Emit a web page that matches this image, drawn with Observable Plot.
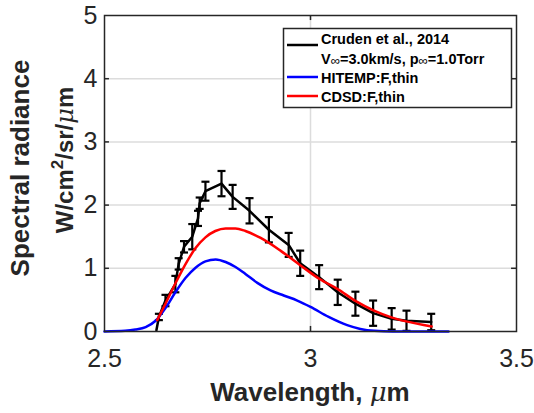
<!DOCTYPE html>
<html>
<head>
<meta charset="utf-8">
<script src="https://cdn.jsdelivr.net/npm/d3@7"></script>
<script src="https://cdn.jsdelivr.net/npm/@observablehq/plot@0.6"></script>
<style>
  html, body { margin: 0; padding: 0; background: #fff; }
  #chart { position: relative; width: 534px; height: 413px; }
</style>
</head>
<body>
<div id="chart"></div>
<script>
// Ticks
const xTicks = [2.5, 3, 3.5];
const yTicks = [0, 1, 2, 3, 4, 5];

// Cruden et al., 2014 (measured, with error bars)
const crudenX = [2.626, 2.632, 2.648, 2.672, 2.680, 2.693, 2.713, 2.727, 2.731, 2.745, 2.784, 2.811, 2.852, 2.899, 2.947, 2.975, 3.021, 3.066, 3.109, 3.152, 3.197, 3.233, 3.293];
const crudenY = [0.02, 0.23, 0.49, 0.75, 1.07, 1.34, 1.50, 1.79, 2.03, 2.22, 2.34, 2.13, 1.91, 1.61, 1.37, 1.08, 0.86, 0.62, 0.44, 0.29, 0.20, 0.17, 0.15];
const crudenErr = [0, 0.05, 0.09, 0.13, 0.09, 0.09, 0.20, 0.12, 0.09, 0.15, 0.20, 0.19, 0.20, 0.20, 0.19, 0.20, 0.19, 0.20, 0.19, 0.20, 0.17, 0.16, 0.13];

// HITEMP:F,thin
const hitempX = [2.50, 2.55, 2.575, 2.600, 2.624, 2.648, 2.672, 2.697, 2.721, 2.745, 2.770, 2.794, 2.818, 2.842, 2.871, 2.903, 2.935, 2.968, 3.000, 3.044, 3.089, 3.121, 3.155, 3.200, 3.335];
const hitempY = [0.00, 0.01, 0.03, 0.07, 0.17, 0.37, 0.62, 0.85, 1.01, 1.11, 1.14, 1.10, 1.02, 0.91, 0.77, 0.65, 0.57, 0.49, 0.39, 0.23, 0.10, 0.04, 0.01, 0.00, 0.00];

// CDSD:F,thin
const cdsdX = [2.628, 2.648, 2.672, 2.697, 2.721, 2.745, 2.769, 2.794, 2.818, 2.842, 2.879, 2.927, 2.975, 3.022, 3.066, 3.110, 3.154, 3.198, 3.232, 3.294];
const cdsdY = [0.18, 0.44, 0.76, 1.07, 1.32, 1.49, 1.59, 1.63, 1.63, 1.59, 1.48, 1.28, 1.05, 0.83, 0.67, 0.48, 0.33, 0.22, 0.16, 0.08];

const legendLabels = ["Cruden et al., 2014", "HITEMP:F,thin", "CDSD:F,thin"];
const legendColors = ["#000000", "#0000ff", "#ff0000"];

const cruden = crudenX.map((x, i) => ({x, y: crudenY[i], e: crudenErr[i]}));
const bars = cruden.filter(d => d.e > 0);
const hitemp = hitempX.map((x, i) => ({x, y: hitempY[i]}));
const cdsd = cdsdX.map((x, i) => ({x, y: cdsdY[i]}));

const capSymbol = {
  draw(ctx, size) {
    const r = Math.sqrt(size / Math.PI);
    ctx.moveTo(-r, 0);
    ctx.lineTo(r, 0);
  }
};

const font = "'Liberation Sans', Arial, Helvetica, sans-serif";
const axisColor = "#262626";

const plot = Plot.plot({
  width: 534,
  height: 413,
  marginLeft: 104,
  marginRight: 18,
  marginTop: 15,
  marginBottom: 82,
  style: {fontFamily: font, fontSize: "25px", color: axisColor, background: "#fff"},
  x: {domain: [2.5, 3.5]},
  y: {domain: [0, 5]},
  marks: [
    Plot.gridX(xTicks.slice(1, -1), {stroke: "#dcdcdc", strokeOpacity: 1, strokeWidth: 1.5}),
    Plot.gridY(yTicks.slice(1, -1), {stroke: "#dcdcdc", strokeOpacity: 1, strokeWidth: 1.5}),
    Plot.axisX(xTicks, {tickSize: 0, tickPadding: 18, label: null, tickFormat: d => String(d)}),
    Plot.axisY(yTicks, {tickSize: 0, tickPadding: 7, label: null, tickFormat: d => String(d)}),
    // inward ticks (MATLAB style)
    Plot.ruleX(xTicks.slice(1, -1), {y1: 0, y2: 0.08, stroke: axisColor, strokeWidth: 1.5}),
    Plot.ruleX(xTicks.slice(1, -1), {y1: 5, y2: 4.92, stroke: axisColor, strokeWidth: 1.5}),
    Plot.ruleY(yTicks.slice(1, -1), {x1: 2.5, x2: 2.512, stroke: axisColor, strokeWidth: 1.5}),
    Plot.ruleY(yTicks.slice(1, -1), {x1: 3.488, x2: 3.5, stroke: axisColor, strokeWidth: 1.5}),
    // error bars
    Plot.ruleX(bars, {x: "x", y1: d => d.y - d.e, y2: d => d.y + d.e, stroke: "#000", strokeWidth: 2.2}),
    Plot.dot(bars, {x: "x", y: d => d.y + d.e, symbol: capSymbol, r: 4, fill: "none", stroke: "#000", strokeWidth: 2.2}),
    Plot.dot(bars, {x: "x", y: d => d.y - d.e, symbol: capSymbol, r: 4, fill: "none", stroke: "#000", strokeWidth: 2.2}),
    Plot.line(cruden, {x: "x", y: "y", stroke: "#000", strokeWidth: 2.5}),
    Plot.line(hitemp, {x: "x", y: "y", stroke: "#0000ff", strokeWidth: 2.5, curve: "monotone-x"}),
    Plot.line(cdsd, {x: "x", y: "y", stroke: "#ff0000", strokeWidth: 2.5, curve: "monotone-x"}),
    Plot.frame({stroke: axisColor, strokeWidth: 1.5})
  ]
});

document.getElementById("chart").appendChild(plot);

// Axis titles and legend (text drawn into the Plot SVG)
const svg = d3.select(plot);

const xt = svg.append("text")
  .attr("x", 310).attr("y", 401)
  .attr("text-anchor", "middle")
  .attr("font-family", font).attr("font-size", 26).attr("font-weight", "bold")
  .attr("fill", axisColor);
xt.append("tspan").text("Wavelength, ");
xt.append("tspan").attr("font-style", "italic").attr("font-weight", "normal").attr("font-family", "'DejaVu Serif', serif").text("μ");
xt.append("tspan").text("m");

const yt = svg.append("g")
  .attr("font-family", font).attr("font-size", 26).attr("font-weight", "bold")
  .attr("fill", axisColor).attr("text-anchor", "middle");
yt.append("text").attr("transform", "translate(29,168) rotate(-90)").text("Spectral radiance");
const yt2 = yt.append("text").attr("transform", "translate(73,160) rotate(-90)").attr("font-size", 24);
yt2.append("tspan").text("W/cm");
yt2.append("tspan").attr("font-size", 17).attr("dy", -10).text("2");
yt2.append("tspan").attr("dy", 10).text("/sr/");
yt2.append("tspan").attr("font-style", "italic").attr("font-weight", "normal").attr("font-family", "'DejaVu Serif', serif").text("μ");
yt2.append("tspan").text("m");

// legend
const lg = svg.append("g").attr("font-family", font).attr("font-weight", "bold").attr("font-size", 14.5)
  .attr("fill", "#000").attr("text-anchor", "start");
lg.append("rect").attr("x", 283.5).attr("y", 28.5).attr("width", 228).attr("height", 79)
  .attr("fill", "#fff").attr("stroke", axisColor).attr("stroke-width", 1.5);
const rowsY = [45, 77, 96];
const textY = [44, 83, 101.5];
legendLabels.forEach((lab, i) => {
  lg.append("line").attr("x1", 287).attr("x2", 318).attr("y1", rowsY[i]).attr("y2", rowsY[i])
    .attr("stroke", legendColors[i]).attr("stroke-width", 2.5);
  lg.append("text").attr("x", 321).attr("y", textY[i]).attr("text-anchor", "start").text(lab);
});
const sub = lg.append("text").attr("x", 321).attr("y", 63.5).attr("text-anchor", "start");
sub.append("tspan").text("V");
sub.append("tspan").attr("font-weight", "normal").attr("font-size", 13).attr("dy", 1.5).text("∞");
sub.append("tspan").attr("dy", -1.5).text("=3.0km/s, p");
sub.append("tspan").attr("font-weight", "normal").attr("font-size", 13).attr("dy", 1.5).text("∞");
sub.append("tspan").attr("dy", -1.5).text("=1.0Torr");
</script>
</body>
</html>
